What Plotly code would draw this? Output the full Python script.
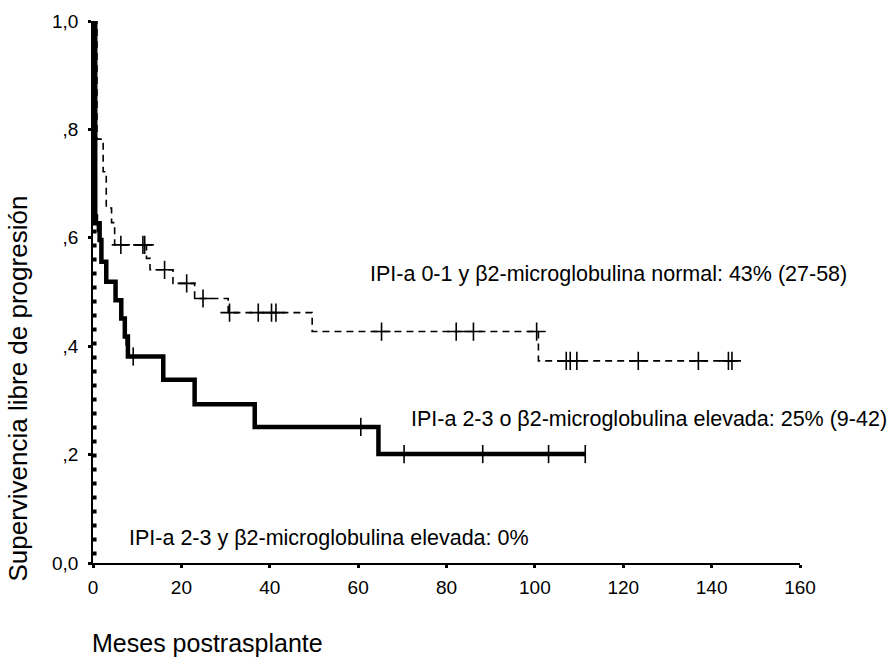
import numpy as np
import plotly.graph_objects as go

# Kaplan-Meier estimates, progression-free survival after transplant (months)
# Group: IPI-a 0-1 and normal beta2-microglobulin
normal_times = [0, 0.9, 2.3, 3.0, 4.2, 4.9, 12.1, 12.9, 18.1, 23.0, 30.6, 49.6, 100.8]
normal_surv = [1.0, 0.782, 0.722, 0.655, 0.628, 0.587, 0.562, 0.541, 0.516, 0.488, 0.462, 0.427, 0.373]
normal_end = 145.7
normal_censored = [6.3, 11.3, 11.7, 16.2, 21.2, 24.9, 30.9, 37.4, 40.4, 41.4, 65.3, 82.2,
                   86.1, 100.4, 107.1, 108.0, 109.5, 123.4, 137.0, 143.8, 144.6]

# Group: IPI-a 2-3 or raised beta2-microglobulin
either_times = [0, 0.5, 1.5, 1.9, 3.0, 5.1, 6.4, 7.2, 7.9, 15.9, 23.0, 36.6, 64.6]
either_surv = [1.0, 0.627, 0.596, 0.556, 0.519, 0.485, 0.451, 0.418, 0.381, 0.338, 0.293, 0.251, 0.201]
either_end = 111.5
either_censored = [1.0, 7.5, 9.1, 60.6, 70.4, 88.2, 103.1, 111.4]

# Group: IPI-a 2-3 and raised beta2-microglobulin
both_times = [0, 0.35]
both_surv = [1.0, 0.0]

x_ticks = [0, 20, 40, 60, 80, 100, 120, 140, 160]
y_ticks = [0.0, 0.2, 0.4, 0.6, 0.8, 1.0]
y_tick_labels = ["0,0", ",2", ",4", ",6", ",8", "1,0"]

label_normal = "IPI-a 0-1 y β2-microglobulina normal: 43% (27-58)"
label_either = "IPI-a 2-3 o β2-microglobulina elevada: 25% (9-42)"
label_both = "IPI-a 2-3 y β2-microglobulina elevada: 0%"
x_title = "Meses postrasplante"
y_title = "Supervivencia libre de progresión"

FONT = "Liberation Sans, Arial, sans-serif"


def level_at(times, surv, t):
    idx = np.searchsorted(np.asarray(times), np.asarray(t), side="right") - 1
    return np.asarray(surv)[idx]


fig = go.Figure()

# dotted curve (drops to zero right away)
fig.add_trace(go.Scatter(
    x=both_times, y=both_surv, mode="lines", line_shape="hv",
    line=dict(color="black", width=4, dash="4px,10px"),
    hoverinfo="skip", showlegend=False, cliponaxis=False))

# dashed curve
fig.add_trace(go.Scatter(
    x=normal_times + [normal_end], y=normal_surv + [normal_surv[-1]],
    mode="lines", line_shape="hv",
    line=dict(color="black", width=1.6, dash="7px,5px"),
    hoverinfo="skip", showlegend=False, cliponaxis=False))
fig.add_trace(go.Scatter(
    x=normal_censored, y=level_at(normal_times, normal_surv, normal_censored),
    mode="markers",
    marker=dict(symbol="cross-thin", size=13, line=dict(color="black", width=1.6)),
    hoverinfo="skip", showlegend=False, cliponaxis=False))

# thick solid curve
fig.add_trace(go.Scatter(
    x=either_times + [either_end], y=either_surv + [either_surv[-1]],
    mode="lines", line_shape="hv",
    line=dict(color="black", width=4.5),
    hoverinfo="skip", showlegend=False, cliponaxis=False))
fig.add_trace(go.Scatter(
    x=either_censored, y=level_at(either_times, either_surv, either_censored),
    mode="markers",
    marker=dict(symbol="line-ns", size=13, line=dict(color="black", width=1.6)),
    hoverinfo="skip", showlegend=False, cliponaxis=False))

annotations = [
    dict(x=62.3, y=0.534, text=label_normal, xanchor="left", yanchor="middle"),
    dict(x=71.5, y=0.266, text=label_either, xanchor="left", yanchor="middle"),
    dict(x=7.8, y=0.046, text=label_both, xanchor="left", yanchor="middle"),
]
for a in annotations:
    a.update(xref="x", yref="y", showarrow=False,
             font=dict(family=FONT, size=21.5, color="black"))
    fig.add_annotation(**a)

# axis titles placed as free text in paper coordinates
fig.add_annotation(x=0.162, y=-0.147, xref="paper", yref="paper", text=x_title,
                   showarrow=False, xanchor="center", yanchor="middle",
                   font=dict(family=FONT, size=25, color="black"))
fig.add_annotation(x=-0.106, y=0.322, xref="paper", yref="paper",
                   text=y_title, textangle=-90,
                   showarrow=False, xanchor="center", yanchor="middle",
                   font=dict(family=FONT, size=26, color="black"))

fig.update_xaxes(range=[0, 160], tickvals=x_ticks, ticktext=[str(v) for v in x_ticks],
                 showline=True, linecolor="black", linewidth=1.5, showgrid=False,
                 zeroline=False, ticks="outside", ticklen=3, tickwidth=3,
                 tickcolor="black", ticklabelstandoff=3,
                 tickfont=dict(family=FONT, size=19, color="black"))
fig.update_yaxes(range=[0, 1], tickvals=y_ticks, ticktext=y_tick_labels,
                 showline=True, linecolor="black", linewidth=1.5, showgrid=False,
                 zeroline=False, ticks="outside", ticklen=3, tickwidth=3,
                 tickcolor="black", ticklabelstandoff=6,
                 tickfont=dict(family=FONT, size=19, color="black"))

fig.update_layout(width=891, height=660, plot_bgcolor="white", paper_bgcolor="white",
                  margin=dict(l=93, r=91, t=21, b=97), showlegend=False)

fig.write_html("out.html")
